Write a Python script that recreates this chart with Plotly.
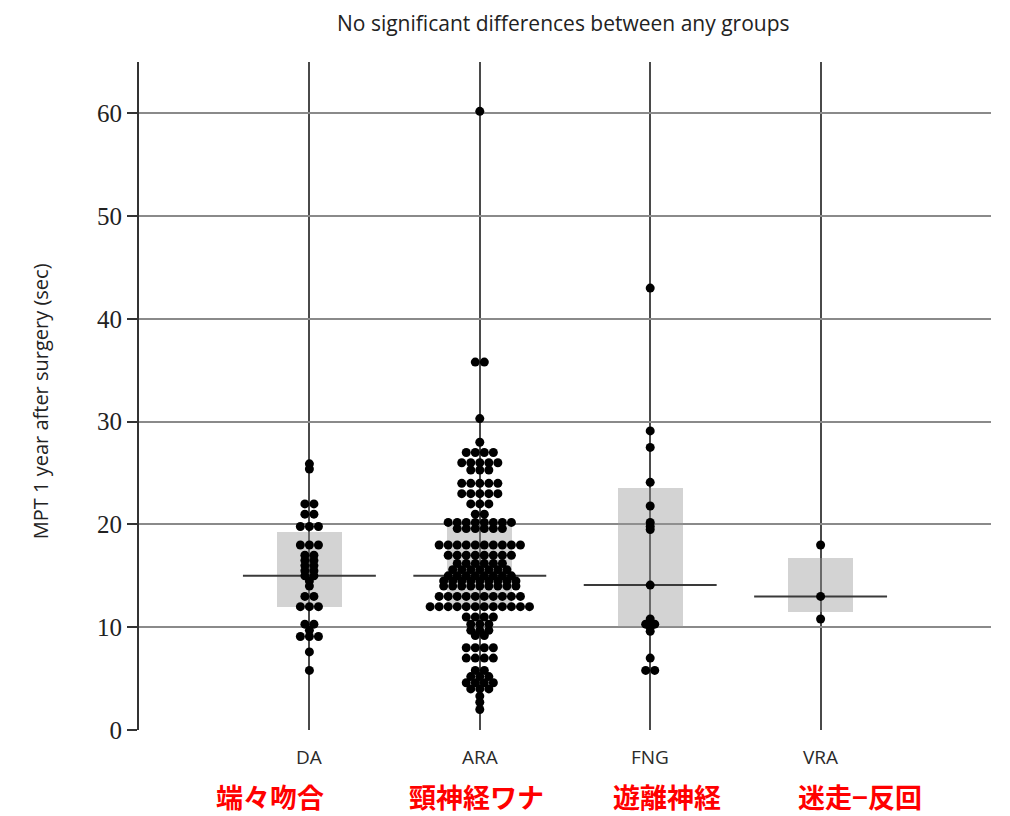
import plotly.graph_objects as go

# ---------------- data ----------------
groups = ["DA", "ARA", "FNG", "VRA"]
labels_jp = ["端々吻合", "頸神経ワナ", "遊離神経", "迷走−反回"]
label_jp_x = [0.77, 1.98, 3.10, 4.23]

da_vals = [25.9, 25.4, 22, 22, 21, 21, 19.8, 19.8, 19.8, 18, 18, 18,
           17, 17, 16.5, 16.5, 16, 16, 15.5, 15.5, 15, 15, 14.5, 14,
           13, 13, 12, 12, 12, 10.3, 10.3, 9.7, 9.1, 9.1, 9.1, 7.6, 5.8]

ara_counts = {
    60.2: 1, 35.8: 2, 30.3: 1, 28.0: 1, 27.0: 4, 26.0: 5, 25.3: 3, 24.0: 5,
    23.0: 5, 22.0: 3, 21.0: 2, 20.2: 8, 19.6: 6, 18.0: 10, 17.0: 8,
    16.2: 6, 15.6: 7, 15.0: 8, 14.5: 9, 14.0: 9, 13.0: 10, 12.0: 12,
    11.0: 4, 10.3: 3, 9.7: 3, 9.2: 2, 8.0: 4, 7.0: 4, 5.8: 2, 5.2: 3,
    4.6: 4, 4.0: 3, 3.3: 1, 2.7: 1, 2.0: 1,
}
ara_vals = [v for v, n in ara_counts.items() for _ in range(n)]

fng_vals = [43.0, 29.1, 27.5, 24.1, 21.8, 20.2, 19.8, 19.5, 14.1,
            10.8, 10.3, 10.3, 10.0, 9.6, 7.0, 5.8, 5.8]

vra_vals = [18.0, 13.0, 10.8]

group_vals = [da_vals, ara_vals, fng_vals, vra_vals]

box_low = [12.0, 12.0, 10.0, 11.5]
box_high = [19.3, 20.0, 23.5, 16.7]
medians = [15.0, 15.0, 14.1, 13.0]

y_ticks = [0, 10, 20, 30, 40, 50, 60]

title_text = "No significant differences between any groups"
y_title = "MPT 1 year after surgery (sec)"

# ---------------- helpers ----------------
DOT_SPACING = 0.053
BOX_HALF = 0.19
MED_HALF = 0.39


def swarm(values, center):
    rows = {}
    for v in values:
        rows.setdefault(v, 0)
        rows[v] += 1
    xs, ys = [], []
    for v, n in rows.items():
        for k in range(n):
            xs.append(center + (k - (n - 1) / 2) * DOT_SPACING)
            ys.append(v)
    return xs, ys


fig = go.Figure()

positions = [i + 1 for i in range(len(groups))]

# boxes (IQR)
fig.add_trace(go.Bar(
    x=positions,
    base=box_low,
    y=[h - l for h, l in zip(box_high, box_low)],
    width=2 * BOX_HALF,
    marker=dict(color="rgba(150,150,150,0.42)", line=dict(width=0)),
    hoverinfo="skip",
    showlegend=False,
))

# medians
mx, my = [], []
for p, m in zip(positions, medians):
    mx += [p - MED_HALF, p + MED_HALF, None]
    my += [m, m, None]
fig.add_trace(go.Scatter(x=mx, y=my, mode="lines",
                         line=dict(color="#3a3a3a", width=2),
                         hoverinfo="skip", showlegend=False))

# dots
for p, vals in zip(positions, group_vals):
    xs, ys = swarm(vals, p)
    fig.add_trace(go.Scatter(x=xs, y=ys, mode="markers",
                             marker=dict(color="black", size=9, line=dict(width=0)),
                             showlegend=False))

annotations = []
for p, g in zip(positions, groups):
    annotations.append(dict(x=p, y=-0.041, xref="x", yref="paper", text=g,
                            showarrow=False, xanchor="center", yanchor="middle",
                            font=dict(family="Open Sans", size=19, color="#2a2a2a")))
for x, t in zip(label_jp_x, labels_jp):
    annotations.append(dict(x=x, y=-0.099, xref="x", yref="paper",
                            text="<b>" + t + "</b>",
                            showarrow=False, xanchor="center", yanchor="middle",
                            font=dict(family="Noto Sans CJK JP", size=27, color="#ff0000")))
annotations.append(dict(x=-0.116, y=0.4925, xref="paper", yref="paper", text=y_title,
                        textangle=-90, showarrow=False, xanchor="center", yanchor="middle",
                        font=dict(family="Open Sans", size=20, color="#222222")))
annotations.append(dict(x=0.498, y=1.059, xref="paper", yref="paper", text=title_text,
                        showarrow=False, xanchor="center", yanchor="middle",
                        font=dict(family="Open Sans", size=21, color="#222222")))

# page body has an 8px margin, so the figure is shifted by 8px
fig.update_layout(
    width=1002, height=808,
    margin=dict(l=131, r=19, t=54, b=86),
    paper_bgcolor="white", plot_bgcolor="white",
    bargap=0,
    annotations=annotations,
    xaxis=dict(range=[0, 5], tickvals=positions, showticklabels=False,
               showgrid=True, gridcolor="#4a4a4a", gridwidth=2,
               zeroline=False, showline=False, ticks=""),
    yaxis=dict(range=[0, 65], tickvals=y_ticks,
               showgrid=True, gridcolor="#8a8a8a", gridwidth=2,
               zeroline=False, showline=True, linecolor="#333333", linewidth=2,
               ticks="outside", ticklen=10, tickwidth=2, tickcolor="#333333",
               tickfont=dict(family="Liberation Serif", size=25, color="#222222")),
)

fig.write_html("out.html")
